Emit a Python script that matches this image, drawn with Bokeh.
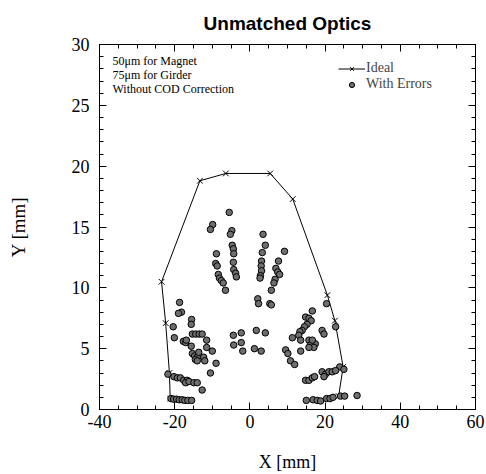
from bokeh.plotting import figure
from bokeh.models import (LinearAxis, SingleIntervalTicker, Range1d, Legend,
                          LegendItem, Label, CustomJSTickFormatter)
from bokeh.embed import file_html
from bokeh.resources import INLINE

# ---- data ----
ideal_x = [-21.2, -21.4, -22.4, -23.5, -13.3, -6.4, 5.4, 11.4, 20.6, 22.6, 24.8, 23.6]
ideal_y = [0.9, 3.0, 7.1, 10.5, 18.8, 19.4, 19.4, 17.3, 9.4, 7.3, 3.5, 1.1]

err_x = [
    -5.5, -9.9, -10.5, -4.8, -5.2, -8.9, -4.7, -4.4, -4.3, -4.4, -9.1, -8.7, -4.3, -3.8, -3.6,
    -8.4, -8.1, -7.6, -7.1, -6.5,
    3.5, 4.1, 3.3, 9.2, 3.1, 3.0, 3.1, 2.8, 2.7, 7.6, 6.9, 7.4, 7.9, 6.7, 6.4, 5.7, 2.1, 2.3,
    5.3, 5.7,
    -18.7, -18.2, -19.0, -20.4, -15.5, -15.6, -20.1, -15.3, -14.4, -13.5, -12.7, -17.7, -17.1,
    -16.9, -11.5, -15.6, -11.5, -10.0, -15.3, -14.7, -14.0, -13.6, -14.5, -14.0, -12.3, -12.0,
    -9.0, -10.5,
    -21.8, -20.2, -19.3, -18.5, -17.6, -16.7, -17.1, -16.2, -14.9, -14.0, -12.7,
    -21.0, -20.3, -19.5, -18.8, -18.0, -17.3, -16.5, -15.5,
    -4.4, -2.3, -4.3, -2.3, -1.9, 1.7, 4.1, 1.2, 3.0,
    16.6, 20.4, 22.8, 14.8, 15.7, 16.3, 15.2, 14.5, 13.9, 13.3, 13.0, 13.5, 19.2, 19.7, 11.3,
    15.7, 16.6, 17.4, 16.1, 17.0, 15.7, 16.6, 13.5, 9.5, 10.1, 10.8, 11.9, 23.9, 25.0, 19.2,
    20.1, 21.0, 21.9, 22.8, 19.7, 14.8, 15.7, 16.6, 17.2,
    15.0, 16.8, 17.9, 18.8, 20.4, 21.3, 22.1, 24.1, 25.2, 28.5,
]
err_y = [
    16.2, 15.2, 14.8, 14.7, 14.4, 12.8, 13.5, 13.2, 12.8, 12.1, 12.0, 11.8, 11.5, 11.2, 10.9,
    11.1, 10.8, 10.6, 10.4, 9.8,
    14.4, 13.5, 12.9, 13.0, 12.2, 11.8, 11.4, 11.0, 10.8, 12.2, 11.6, 11.3, 11.1, 10.7, 10.4,
    9.8, 9.1, 8.7, 8.7, 8.6,
    8.8, 8.0, 7.9, 6.8, 7.4, 7.0, 5.9, 6.2, 6.2, 6.2, 6.2, 5.6, 5.5,
    5.7, 5.7, 5.2, 5.1, 4.8, 4.6, 4.4, 4.3, 4.7, 4.1, 4.0, 4.3, 4.0,
    3.8, 3.0,
    2.9, 2.7, 2.6, 2.6, 2.4, 2.4, 2.2, 2.3, 2.2, 2.2, 1.6,
    0.9, 0.85, 0.85, 0.8, 0.8, 0.75, 0.75, 0.75,
    6.1, 6.3, 5.3, 5.5, 4.8, 6.5, 6.3, 5.0, 4.8,
    8.1, 8.7, 6.8, 7.6, 7.5, 7.3, 7.0, 6.8, 6.5, 6.4, 6.1, 5.7, 6.5, 6.2, 5.9,
    5.7, 5.5, 5.4, 5.3, 5.1, 5.1, 5.7, 4.8, 4.9, 4.6, 4.0, 3.7, 3.5, 3.3, 3.1,
    2.9, 3.1, 3.1, 3.2, 2.7, 2.4, 2.4, 2.6, 2.7,
    0.75, 0.8, 0.75, 0.7, 0.9, 0.9, 1.0, 1.1, 1.1, 1.15,
]

title_text = "Unmatched Optics"
x_label = "X [mm]"
y_label = "Y [mm]"
notes = ["50\u03bcm for Magnet", "75\u03bcm for Girder", "Without COD Correction"]
series_names = ["Ideal", "With Errors"]

SERIF = "Liberation Serif"

p = figure(width=486, height=474, output_backend="svg", toolbar_location=None,
           x_range=Range1d(-40, 60), y_range=Range1d(0, 30),
           x_axis_type=None, y_axis_type=None,
           min_border_left=99, min_border_right=11, min_border_top=44,
           min_border_bottom=65, background_fill_color="white",
           border_fill_color="white")
p.outline_line_color = "black"
p.outline_line_width = 1

p.title.text = title_text
p.title.align = "center"
p.title.text_font = "Liberation Sans"
p.title.text_font_style = "bold"
p.title.text_font_size = "19px"
p.title.text_color = "black"
p.title.standoff = 21


def make_axis(interval, minor, show_labels):
    ax = LinearAxis(ticker=SingleIntervalTicker(interval=interval, num_minor_ticks=minor))
    ax.major_tick_in = 7
    ax.major_tick_out = 0
    ax.minor_tick_in = 4
    ax.minor_tick_out = 0
    ax.axis_line_color = "black"
    ax.major_tick_line_color = "black"
    ax.minor_tick_line_color = "black"
    ax.major_label_text_font = SERIF
    ax.major_label_text_color = "black"
    if show_labels:
        ax.formatter = CustomJSTickFormatter(code="return String(tick);")
    else:
        ax.formatter = CustomJSTickFormatter(code="return '';")
        ax.major_label_standoff = 0
    return ax


xb = make_axis(20, 4, True)
xb.major_label_text_font_size = "18px"
xb.major_label_standoff = 5
xb.axis_label = x_label
xb.axis_label_text_font = SERIF
xb.axis_label_text_font_style = "normal"
xb.axis_label_text_font_size = "18px"
xb.axis_label_text_color = "black"
xb.axis_label_standoff = 21
p.add_layout(xb, "below")

yl = make_axis(5, 5, True)
yl.major_label_text_font_size = "18px"
yl.major_label_standoff = 10
yl.axis_label = y_label
yl.axis_label_text_font = SERIF
yl.axis_label_text_font_style = "normal"
yl.axis_label_text_font_size = "19px"
yl.axis_label_text_color = "black"
yl.axis_label_standoff = 40
p.add_layout(yl, "left")

p.add_layout(make_axis(20, 4, False), "above")
p.add_layout(make_axis(5, 5, False), "right")

line_r = p.line(ideal_x, ideal_y, line_color="black", line_width=1)
xm_r = p.scatter(ideal_x, ideal_y, marker="x", size=8, line_color="black", line_width=1)
pts_r = p.scatter(err_x, err_y, marker="circle", size=6.5, fill_color="#6e6e6e",
                  line_color="black", line_width=1)

legend = Legend(items=[LegendItem(label=series_names[0], renderers=[line_r, xm_r]),
                       LegendItem(label=series_names[1], renderers=[pts_r])],
                location=(239, 317), orientation="vertical",
                glyph_width=27, glyph_height=13, label_height=13, spacing=0,
                padding=0, margin=0, label_standoff=1,
                label_text_font=SERIF, label_text_font_size="14px",
                border_line_color=None, background_fill_alpha=0)
p.add_layout(legend)

for i, t in enumerate(notes):
    p.add_layout(Label(x=13, y=349 - 14 * i, x_units="screen", y_units="screen",
                       text=t, text_font=SERIF, text_font_size="12px",
                       text_baseline="middle", text_color="black"))

open("out.html", "w").write(file_html(p, INLINE))
